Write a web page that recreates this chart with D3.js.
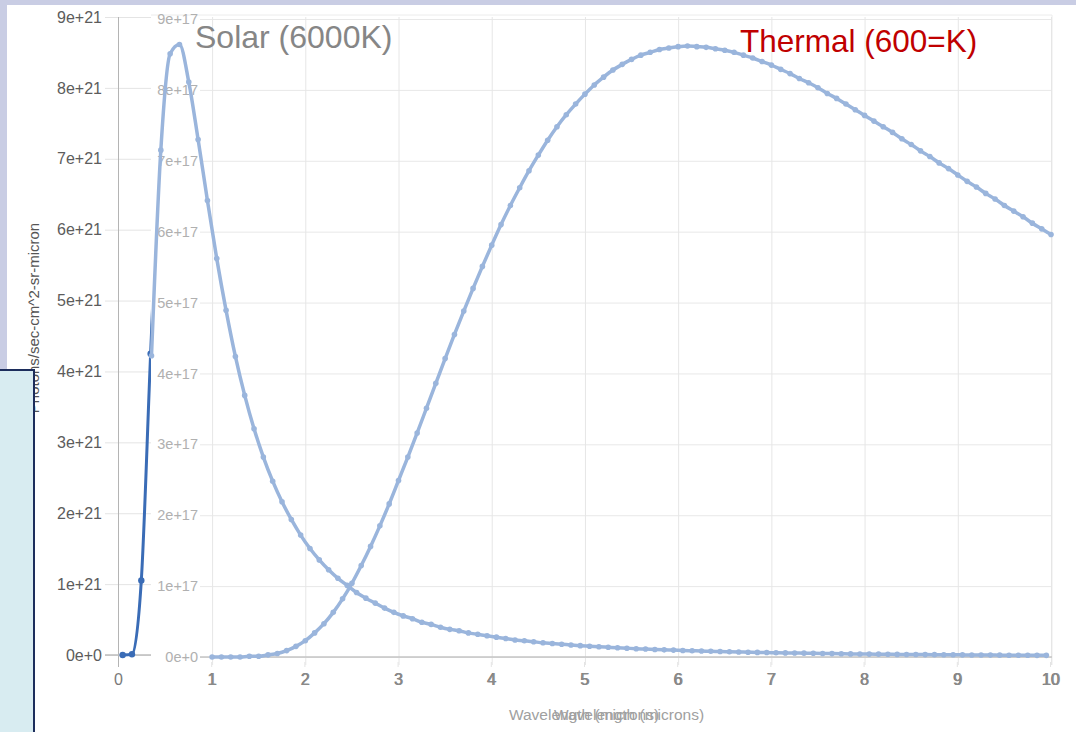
<!DOCTYPE html>
<html>
<head>
<meta charset="utf-8">
<script src="https://cdn.jsdelivr.net/npm/d3@7"></script>
<style>
  body { margin: 0; background: #c9cde4; }
  svg { display: block; font-family: "Liberation Sans", Arial, Helvetica, sans-serif; }
  .tick text { font-family: "Liberation Sans", Arial, Helvetica, sans-serif; }
</style>
</head>
<body>
<div id="chart"></div>
<script>
// solar curve (6000K): wavelength in microns, photons in units of 1e21 (chart 1) / 1e17 (chart 2)
const solarWavelength = [
  0.05, 0.15, 0.25, 0.35, 0.45, 0.55, 0.65, 0.75, 0.85, 0.95,
  1.05, 1.15, 1.25, 1.35, 1.45, 1.55, 1.65, 1.75, 1.85, 1.95,
  2.05, 2.15, 2.25, 2.35, 2.45, 2.55, 2.65, 2.75, 2.85, 2.95,
  3.05, 3.15, 3.25, 3.35, 3.45, 3.55, 3.65, 3.75, 3.85, 3.95,
  4.05, 4.15, 4.25, 4.35, 4.45, 4.55, 4.65, 4.75, 4.85, 4.95,
  5.05, 5.15, 5.25, 5.35, 5.45, 5.55, 5.65, 5.75, 5.85, 5.95,
  6.05, 6.15, 6.25, 6.35, 6.45, 6.55, 6.65, 6.75, 6.85, 6.95,
  7.05, 7.15, 7.25, 7.35, 7.45, 7.55, 7.65, 7.75, 7.85, 7.95,
  8.05, 8.15, 8.25, 8.35, 8.45, 8.55, 8.65, 8.75, 8.85, 8.95,
  9.05, 9.15, 9.25, 9.35, 9.45, 9.55, 9.65, 9.75, 9.85, 9.95
]
const solarPhotons = [
  0, 0.01, 1.05, 4.25, 7.15, 8.51, 8.64, 8.11, 7.30, 6.44,
  5.62, 4.89, 4.24, 3.69, 3.22, 2.82, 2.48, 2.19, 1.94, 1.72,
  1.53, 1.37, 1.23, 1.11, 1.01, 0.91, 0.83, 0.76, 0.69, 0.63,
  0.58, 0.54, 0.49, 0.46, 0.42, 0.39, 0.37, 0.34, 0.32, 0.30,
  0.28, 0.26, 0.24, 0.23, 0.215, 0.20, 0.19, 0.18, 0.17, 0.16,
  0.152, 0.144, 0.137, 0.130, 0.124, 0.117, 0.112, 0.106, 0.101, 0.097,
  0.092, 0.088, 0.084, 0.081, 0.077, 0.074, 0.071, 0.068, 0.065, 0.063,
  0.060, 0.058, 0.056, 0.054, 0.052, 0.050, 0.048, 0.046, 0.044, 0.043,
  0.041, 0.040, 0.039, 0.037, 0.036, 0.035, 0.034, 0.033, 0.032, 0.031,
  0.030, 0.029, 0.028, 0.027, 0.026, 0.025, 0.025, 0.024, 0.023, 0.023
]

// thermal curve (600K): photons in units of 1e17
const thermalWavelength = [
  1.0, 1.1, 1.2, 1.3, 1.4, 1.5, 1.6, 1.7, 1.8, 1.9,
  2.0, 2.1, 2.2, 2.3, 2.4, 2.5, 2.6, 2.7, 2.8, 2.9,
  3.0, 3.1, 3.2, 3.3, 3.4, 3.5, 3.6, 3.7, 3.8, 3.9,
  4.0, 4.1, 4.2, 4.3, 4.4, 4.5, 4.6, 4.7, 4.8, 4.9,
  5.0, 5.1, 5.2, 5.3, 5.4, 5.5, 5.6, 5.7, 5.8, 5.9,
  6.0, 6.1, 6.2, 6.3, 6.4, 6.5, 6.6, 6.7, 6.8, 6.9,
  7.0, 7.1, 7.2, 7.3, 7.4, 7.5, 7.6, 7.7, 7.8, 7.9,
  8.0, 8.1, 8.2, 8.3, 8.4, 8.5, 8.6, 8.7, 8.8, 8.9,
  9.0, 9.1, 9.2, 9.3, 9.4, 9.5, 9.6, 9.7, 9.8, 9.9, 10.0
]
const thermalPhotons = [
  0, 0, 0, 0, 0.01, 0.01, 0.03, 0.05, 0.09, 0.15,
  0.23, 0.34, 0.47, 0.63, 0.82, 1.04, 1.29, 1.56, 1.85, 2.16,
  2.49, 2.82, 3.16, 3.51, 3.86, 4.21, 4.55, 4.88, 5.20, 5.51,
  5.81, 6.10, 6.37, 6.62, 6.86, 7.08, 7.29, 7.48, 7.65, 7.80,
  7.94, 8.07, 8.18, 8.28, 8.36, 8.43, 8.49, 8.53, 8.57, 8.59,
  8.61, 8.62, 8.61, 8.60, 8.58, 8.56, 8.53, 8.49, 8.45, 8.40,
  8.35, 8.29, 8.23, 8.16, 8.10, 8.03, 7.95, 7.88, 7.80, 7.72,
  7.64, 7.56, 7.48, 7.40, 7.31, 7.23, 7.14, 7.06, 6.97, 6.89,
  6.80, 6.71, 6.63, 6.54, 6.46, 6.37, 6.29, 6.21, 6.12, 6.04, 5.96
]

const yTicks = [0, 1, 2, 3, 4, 5, 6, 7, 8, 9]
const xTicks1 = [0, 1, 2, 3, 4, 5, 6, 7, 8, 9, 10]
const xTicks2 = [1, 2, 3, 4, 5, 6, 7, 8, 9, 10]

const W = 1076, H = 732
const svg = d3.select("#chart").append("svg").attr("width", W).attr("height", H)

// page background
svg.append("rect").attr("width", W).attr("height", H).attr("fill", "#c9cde4")
svg.append("rect").attr("x", 7).attr("y", 5).attr("width", W - 7).attr("height", H - 5).attr("fill", "#ffffff")

//y axis title (partly hidden by the box on the left)
svg.append("text")
  .attr("transform", "translate(39,318) rotate(-90)")
  .attr("text-anchor", "middle")
  .attr("font-size", 15)
  .attr("fill", "#555")
  .text("Photons/sec-cm^2-sr-micron")

/* chart 1 : solar in e+21 */
const x1 = d3.scaleLinear().domain([0, 10]).range([118, 1050])
const y1 = d3.scaleLinear().domain([0, 9]).range([655, 17])
const c1 = svg.append("g")

c1.append("g")
  .attr("transform", "translate(105,0)")
  .call(d3.axisLeft(y1).tickValues(yTicks).tickSize(-(1050 - 105)).tickPadding(3)
    .tickFormat(d => d === 0 ? "0e+0" : d + "e+21"))
  .attr("font-size", 16)
  .call(g => g.select(".domain").remove())
  .call(g => g.selectAll("line").attr("stroke", "#e4e4e4"))
  .call(g => g.selectAll("text").attr("fill", "#5c5c5c"))

c1.append("g")
  .attr("transform", "translate(0,667)")
  .call(d3.axisBottom(x1).tickValues(xTicks1).tickSize(-(667 - 17)).tickPadding(7))
  .attr("font-size", 16)
  .call(g => g.select(".domain").remove())
  .call(g => g.selectAll("line").attr("stroke", d => d === 0 ? "#b4b4b4" : "#e4e4e4"))
  .call(g => g.selectAll("text").attr("fill", "#7a7a7a"))

c1.append("line").attr("x1", 105).attr("x2", 1050).attr("y1", y1(0)).attr("y2", y1(0))
  .attr("stroke", "#bdbdbd").attr("stroke-width", 1.5)

c1.append("text").attr("x", (118 + 1050) / 2).attr("y", 720)
  .attr("text-anchor", "middle").attr("font-size", 15.5).attr("fill", "#a0a0a0")
  .text("Wavelength (microns)")

const solarPts = solarWavelength.map((w, i) => [w, solarPhotons[i]])
const line1 = d3.line().x(d => x1(d[0])).y(d => y1(d[1])).curve(d3.curveMonotoneX)
c1.append("path").datum(solarPts).attr("d", line1)
  .attr("fill", "none").attr("stroke", "#3a6cb6").attr("stroke-width", 3)
c1.selectAll("circle").data(solarPts).join("circle")
  .attr("cx", d => x1(d[0])).attr("cy", d => y1(d[1])).attr("r", 3.2).attr("fill", "#3a6cb6")

/* chart 2 : overlay panel with solar + thermal in e+17 */
const solar2 = solarPts.filter(d => d[0] > 0.3)
const thermalPts = thermalWavelength.map((w, i) => [w, thermalPhotons[i]])
const x2 = d3.scaleLinear().domain(d3.extent(solar2.concat(thermalPts), d => d[0])).range([151.5, 1051])
const y2 = d3.scaleLinear().domain([0, 9]).range([657, 19])
const c2 = svg.append("g")

c2.append("rect").attr("x", 151).attr("y", 10).attr("width", W - 151).attr("height", 652).attr("fill", "#ffffff")
c2.append("line").attr("x1", 151).attr("x2", 1052).attr("y1", 15).attr("y2", 15).attr("stroke", "#ececec")
c2.append("line").attr("x1", 1052).attr("x2", 1052).attr("y1", 15).attr("y2", 665).attr("stroke", "#ececec")

c2.append("g")
  .attr("transform", "translate(200,0)")
  .call(d3.axisLeft(y2).tickValues(yTicks).tickSize(-(1052 - 200)).tickPadding(2)
    .tickFormat(d => d === 0 ? "0e+0" : d + "e+17"))
  .attr("font-size", 14.5)
  .call(g => g.select(".domain").remove())
  .call(g => g.selectAll("line").attr("stroke", "#e8e8e8"))
  .call(g => g.selectAll("text").attr("fill", "#b0b0b0"))

c2.append("g")
  .attr("transform", "translate(0,665)")
  .call(d3.axisBottom(x2).tickValues(xTicks2).tickSize(-(665 - 17)).tickPadding(9))
  .attr("font-size", 16)
  .call(g => g.select(".domain").remove())
  .call(g => g.selectAll("line").attr("stroke", "#e6e6e6"))
  .call(g => g.selectAll("text").attr("fill", "#8a8a8a"))

c2.append("line").attr("x1", 200).attr("x2", 1052).attr("y1", y2(0)).attr("y2", y2(0))
  .attr("stroke", "#c4c4c4").attr("stroke-width", 1.5)

c2.append("text").attr("x", 629).attr("y", 720)
  .attr("text-anchor", "middle").attr("font-size", 15.5).attr("fill", "#a0a0a0")
  .text("Wavelength (microns)")

const line2 = d3.line().x(d => x2(d[0])).y(d => y2(d[1])).curve(d3.curveMonotoneX)
const lightBlue = "#9ab5dc"
;[solar2, thermalPts].forEach((pts, k) => {
  c2.append("path").datum(pts).attr("d", line2)
    .attr("fill", "none").attr("stroke", lightBlue).attr("stroke-width", 3.5)
  c2.selectAll("circle.s" + k).data(pts).join("circle").attr("class", "s" + k)
    .attr("cx", d => x2(d[0])).attr("cy", d => y2(d[1])).attr("r", 2.8).attr("fill", lightBlue)
})

// curve labels
svg.append("text").attr("x", 195).attr("y", 48).attr("font-size", 32).attr("fill", "#868686")
  .text("Solar (6000K)")
svg.append("text").attr("x", 740).attr("y", 52).attr("font-size", 31.5).attr("fill", "#c00000")
  .text("Thermal (600=K)")

// box at the bottom left
svg.append("rect").attr("x", -3).attr("y", 370).attr("width", 37).attr("height", 370)
  .attr("fill", "#d8ecf1").attr("stroke", "#1c2d5c").attr("stroke-width", 2)
</script>
</body>
</html>
